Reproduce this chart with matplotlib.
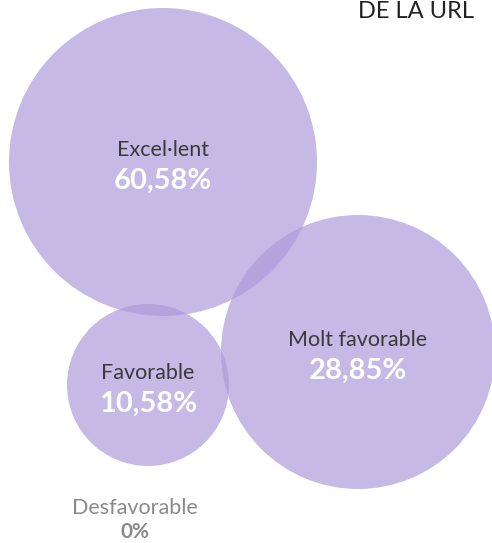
import matplotlib
matplotlib.use("Agg")
import matplotlib.pyplot as plt
from matplotlib.patches import Circle

# data
categories = ["Excel·lent", "Molt favorable", "Favorable", "Desfavorable"]
values = [60.58, 28.85, 10.58, 0.0]
title = "DE LA URL"

# bubble layout (pixel-like units, y down)
centers_x = [163, 358, 148, 135]
centers_y = [162, 352, 385, 508]
radii = [154, 137, 81, 0]

fill = "#ac99da"
plt.rcParams["font.family"] = ["Lato", "DejaVu Sans"]


def fmt_pct(v):
    if v == 0:
        return "0%"
    return f"{v:.2f}".replace(".", ",") + "%"


fig = plt.figure(figsize=(4.92, 5.43), dpi=100)
ax = fig.add_axes([0, 0, 1, 1])
ax.set_xlim(0, 492)
ax.set_ylim(543, 0)
ax.set_aspect("equal")
ax.axis("off")

for cat, val, x, y, r in zip(categories, values, centers_x, centers_y, radii):
    if r > 0:
        ax.add_patch(Circle((x, y), r, facecolor=fill, edgecolor="none", alpha=0.68))
        ax.text(x, y - 12, cat, ha="center", va="center", fontsize=15.5, color="#3a3a3a")
        ax.text(x, y + 19, fmt_pct(val), ha="center", va="center", fontsize=21,
                fontweight="bold", color="white")
    else:
        ax.text(x, y, cat, ha="center", va="center", fontsize=15.5, color="#8a8a8a")
        ax.text(x, y + 24, fmt_pct(val), ha="center", va="center", fontsize=15,
                fontweight="bold", color="#8a8a8a")

ax.text(474, 12, title, ha="right", va="center", fontsize=17, color="#222222")

fig.savefig("out.png", dpi=100)
